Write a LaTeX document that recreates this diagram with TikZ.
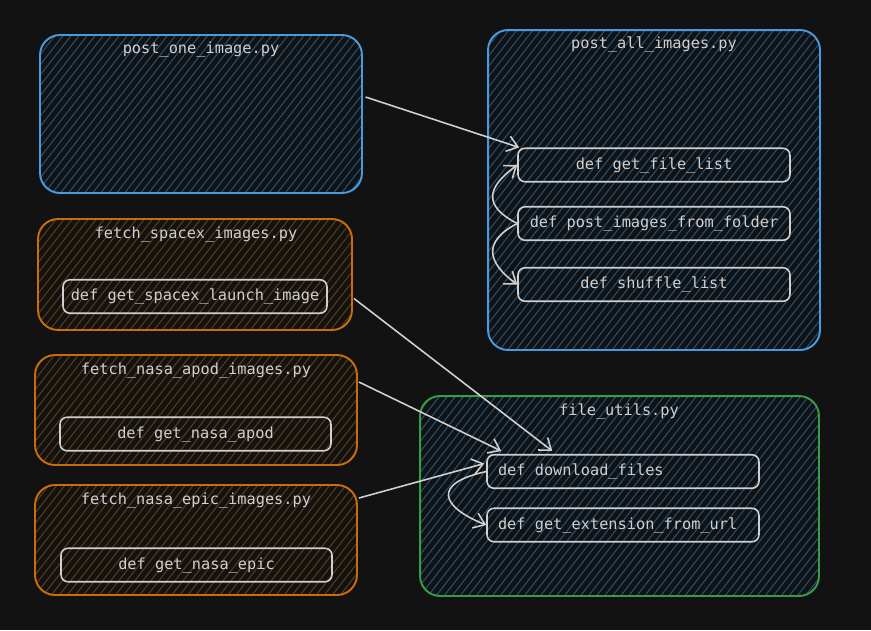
\documentclass[tikz,border=0pt]{standalone}
\usepackage{fontspec}
\setmonofont{DejaVu Sans Mono}
\usetikzlibrary{arrows.meta,patterns.meta,calc}
\definecolor{bgcol}{HTML}{121212}
\definecolor{txtcol}{HTML}{D0D0D0}
\definecolor{fileblue}{HTML}{4A9ADF}
\definecolor{fileorange}{HTML}{C96D0A}
\definecolor{filegreen}{HTML}{379E46}
\definecolor{hatchblue}{HTML}{21527A}
\definecolor{hatchbrown}{HTML}{5C3C12}
\tikzset{
  file/.style={rectangle, rounded corners=0.4cm, line width=1.1pt, inner sep=0pt},
  bluefile/.style={file, draw=fileblue, pattern={Lines[angle=52,distance=3.6pt,line width=0.6pt]}, pattern color=hatchblue},
  greenfile/.style={file, draw=filegreen, pattern={Lines[angle=52,distance=3.6pt,line width=0.6pt]}, pattern color=hatchblue},
  orangefile/.style={file, draw=fileorange, pattern={Lines[angle=52,distance=3.6pt,line width=0.6pt]}, pattern color=hatchbrown},
  title/.style={text=txtcol, font=\ttfamily\fontsize{8.7}{10}\selectfont},
  func/.style={rectangle, draw=txtcol, rounded corners=0.14cm, line width=0.9pt, inner sep=0pt,
    text=txtcol, font=\ttfamily\fontsize{8.7}{10}\selectfont, minimum height=0.67cm},
  arr/.style={draw=txtcol, line width=0.9pt, -{Straight Barb[length=6pt,width=9pt]}}
}
\begin{document}
\begin{tikzpicture}[x=0.02cm, y=-0.02cm]
  \fill[bgcol] (0,0) rectangle (871,630);

  \node[bluefile, minimum width=6.44cm, minimum height=3.16cm] (pone) at (201,114) {};
  \node[title] (pone-t) at (201,49) {post\_one\_image.py};

  \node[bluefile, minimum width=6.64cm, minimum height=6.4cm] (pall) at (654,190) {};
  \node[title] (pall-t) at (654,44) {post\_all\_images.py};
  \node[func, minimum width=5.44cm] (filelist) at (654,165) {def get\_file\_list};
  \node[func, minimum width=5.44cm] (folder) at (654,223.5) {def post\_images\_from\_folder};
  \node[func, minimum width=5.44cm] (shuffle) at (654,284.5) {def shuffle\_list};

  \node[orangefile, minimum width=6.28cm, minimum height=2.22cm] (spacex) at (195,274.5) {};
  \node[title] (spacex-t) at (196,234) {fetch\_spacex\_images.py};
  \node[func, minimum width=5.28cm] (spacexfn) at (195,296.5) {def get\_spacex\_launch\_image};

  \node[orangefile, minimum width=6.44cm, minimum height=2.2cm] (apod) at (196,410) {};
  \node[title] (apod-t) at (196,370) {fetch\_nasa\_apod\_images.py};
  \node[func, minimum width=5.42cm] (apodfn) at (195.5,434) {def get\_nasa\_apod};

  \node[orangefile, minimum width=6.44cm, minimum height=2.2cm] (epic) at (196,540) {};
  \node[title] (epic-t) at (196,500) {fetch\_nasa\_epic\_images.py};
  \node[func, minimum width=5.42cm] (epicfn) at (196.5,565) {def get\_nasa\_epic};

  \node[greenfile, minimum width=7.98cm, minimum height=4cm] (futils) at (619.5,496) {};
  \node[title] (futils-t) at (619,411) {file\_utils.py};
  \node[func, minimum width=5.44cm] (download) at (623,471.5) {\makebox[5cm][l]{def download\_files}};
  \node[func, minimum width=5.44cm] (extension) at (623,525) {\makebox[5cm][l]{def get\_extension\_from\_url}};

  \draw[arr] ($(pone.east)+(3,-17)$) -- ($(filelist.north west)+(2,0)$);
  \draw[arr] (folder.west) .. controls +(-35,-18) and +(-30,22) .. (filelist.west);
  \draw[arr] (folder.west) .. controls +(-35,18) and +(-30,-22) .. (shuffle.west);
  \draw[arr] ($(spacex.east)+(1,24)$) -- ($(download.north west)+(66,-3)$);
  \draw[arr] ($(apod.east)+(1,-28)$) -- ($(download.north west)+(15,-3)$);
  \draw[arr] ($(epic.east)+(1,-42)$) -- ($(download.west)+(-2,-8)$);
  \draw[arr] (download.west) .. controls +(-55,12) and +(-45,-18) .. (extension.west);
\end{tikzpicture}
\end{document}
